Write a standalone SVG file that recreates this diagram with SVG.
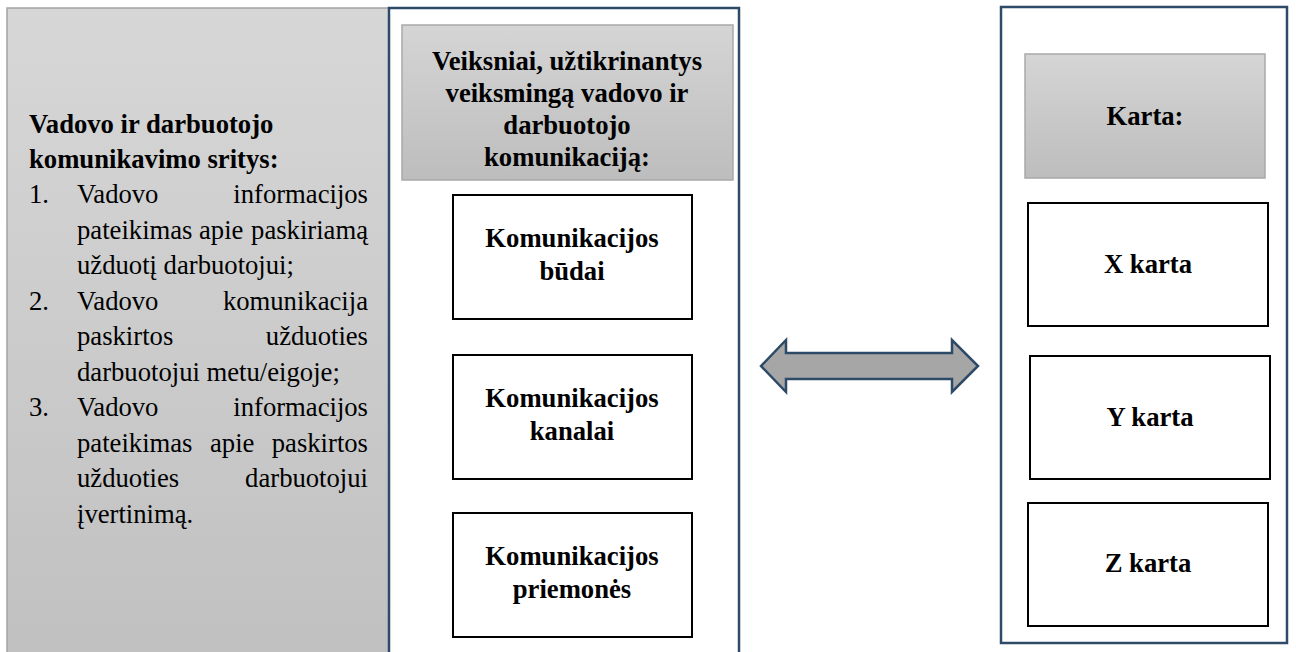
<svg xmlns="http://www.w3.org/2000/svg" width="1296" height="652" viewBox="0 0 1296 652" font-family="Liberation Serif, serif">
  <defs>
    <linearGradient id="gLeft" x1="0" y1="0" x2="0" y2="1">
      <stop offset="0" stop-color="#d7d7d7"/>
      <stop offset="1" stop-color="#c0c0c0"/>
    </linearGradient>
    <linearGradient id="gHead" x1="0" y1="0" x2="0" y2="1">
      <stop offset="0" stop-color="#d5d5d5"/>
      <stop offset="1" stop-color="#bdbdbd"/>
    </linearGradient>
    <style>
      .t { font-size: 26.67px; fill: #000; }
      .b { font-weight: bold; }
      .mid { text-anchor: middle; }
      .end { text-anchor: end; }
      .container { fill: #fff; stroke: #2d4a66; stroke-width: 2.5; }
      .head { fill: url(#gHead); stroke: #a9a9a9; stroke-width: 1.5; }
      .box { fill: #fff; stroke: #000; stroke-width: 2; }
    </style>
  </defs>

  <rect width="1296" height="652" fill="#fff"/>

  <!-- Left panel -->
  <g id="left-panel">
    <rect x="7" y="8" width="383" height="660" fill="url(#gLeft)" stroke="#a3a3a3" stroke-width="1.5"/>
    <text class="t b" x="29" y="133">Vadovo ir darbuotojo</text>
    <text class="t b" x="29" y="168">komunikavimo sritys:</text>
    <text class="t" y="203"><tspan x="29">1.</tspan><tspan x="77">Vadovo</tspan><tspan x="368" class="end">informacijos</tspan></text>
    <text class="t" y="239"><tspan x="77">pateikimas</tspan><tspan x="199">apie</tspan><tspan x="368" class="end">paskiriamą</tspan></text>
    <text class="t" x="77" y="274">užduotį darbuotojui;</text>
    <text class="t" y="310"><tspan x="29">2.</tspan><tspan x="77">Vadovo</tspan><tspan x="368" class="end">komunikacija</tspan></text>
    <text class="t" y="345"><tspan x="77">paskirtos</tspan><tspan x="368" class="end">užduoties</tspan></text>
    <text class="t" x="77" y="381">darbuotojui metu/eigoje;</text>
    <text class="t" y="416"><tspan x="29">3.</tspan><tspan x="77">Vadovo</tspan><tspan x="368" class="end">informacijos</tspan></text>
    <text class="t" y="452"><tspan x="77">pateikimas</tspan><tspan x="210">apie</tspan><tspan x="368" class="end">paskirtos</tspan></text>
    <text class="t" y="487"><tspan x="77">užduoties</tspan><tspan x="368" class="end">darbuotojui</tspan></text>
    <text class="t" x="77" y="523">įvertinimą.</text>
  </g>

  <!-- Middle panel -->
  <g id="middle-panel">
    <rect class="container" x="389" y="8" width="350" height="660"/>
  </g>
  <g id="factors-header">
    <rect class="head" x="402" y="25" width="331" height="155"/>
    <text class="t b mid" x="567" y="70">Veiksniai, užtikrinantys</text>
    <text class="t b mid" x="567" y="102">veiksmingą vadovo ir</text>
    <text class="t b mid" x="567" y="134">darbuotojo</text>
    <text class="t b mid" x="567" y="166">komunikaciją:</text>
  </g>
  <g id="box-budai">
    <rect class="box" x="453" y="195" width="239" height="124"/>
    <text class="t b mid" x="572" y="247">Komunikacijos</text>
    <text class="t b mid" x="572" y="280">būdai</text>
  </g>
  <g id="box-kanalai">
    <rect class="box" x="453" y="355" width="239" height="124"/>
    <text class="t b mid" x="572" y="407">Komunikacijos</text>
    <text class="t b mid" x="572" y="440">kanalai</text>
  </g>
  <g id="box-priemones">
    <rect class="box" x="453" y="513" width="239" height="124"/>
    <text class="t b mid" x="572" y="565">Komunikacijos</text>
    <text class="t b mid" x="572" y="598">priemonės</text>
  </g>

  <!-- Connector -->
  <g id="connectors">
    <path d="M761,366 L786,340 L786,353 L952,353 L952,340 L978,366 L952,392 L952,379 L786,379 L786,392 Z" fill="#a6a6a6" stroke="#2d4a66" stroke-width="2.5" stroke-linejoin="miter"/>
  </g>

  <!-- Right panel -->
  <g id="right-panel">
    <rect class="container" x="1001" y="7" width="286" height="636"/>
  </g>
  <g id="karta-header">
    <rect class="head" x="1025" y="54" width="240" height="124"/>
    <text class="t b mid" x="1145" y="125">Karta:</text>
  </g>
  <g id="box-x">
    <rect class="box" x="1028" y="203" width="240" height="123"/>
    <text class="t b mid" x="1148" y="273">X karta</text>
  </g>
  <g id="box-y">
    <rect class="box" x="1030" y="356" width="240" height="123"/>
    <text class="t b mid" x="1150" y="426">Y karta</text>
  </g>
  <g id="box-z">
    <rect class="box" x="1028" y="503" width="240" height="123"/>
    <text class="t b mid" x="1148" y="572">Z karta</text>
  </g>
</svg>
